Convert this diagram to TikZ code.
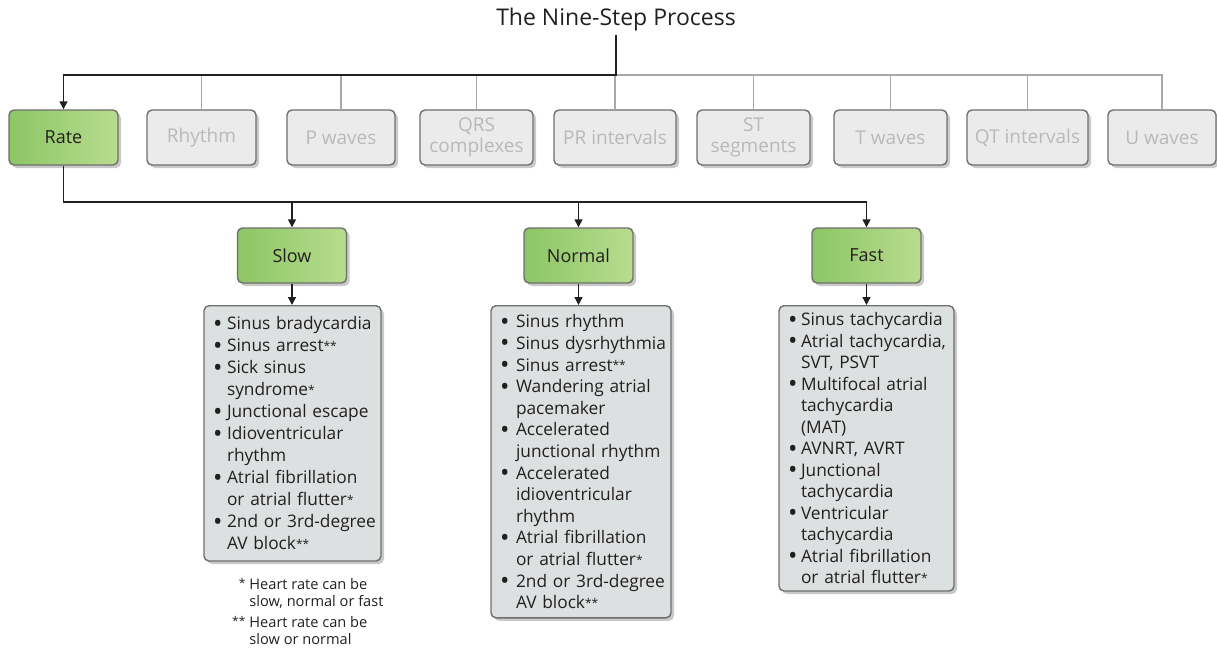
\documentclass[tikz,border=0pt]{standalone}
\usepackage{fontspec}
\usepackage{graphicx}
\setmainfont{Open Sans}
\usetikzlibrary{arrows.meta,shadows}
\definecolor{txt}{HTML}{231F20}
\definecolor{gtxt}{HTML}{B9B9B9}
\definecolor{gfill}{HTML}{EBEBEB}
\definecolor{bord}{HTML}{6E6E6E}
\definecolor{lfill}{HTML}{DDE0E0}
\definecolor{grnL}{HTML}{8CC665}
\definecolor{grnR}{HTML}{B8DC8E}
\definecolor{gline}{HTML}{A9A9A9}
\definecolor{shad}{HTML}{C9C9C9}
\newcommand{\mybul}{\smash{\raisebox{-2.4pt}{\scalebox{1.45}{\textbullet}}}}
\newcommand{\litem}[2][14pt]{\mbox{\makebox[#1][l]{\mybul}#2}}
\newcommand{\lcont}[2][14pt]{\mbox{\hspace*{#1}#2}}
\newcommand{\stars}[1]{{\fontsize{12}{12}\selectfont\raisebox{1.2pt}{#1}}}
\begin{document}
\begin{tikzpicture}[x=1pt,y=-1pt,
 shd/.style={drop shadow={shadow xshift=3pt,shadow yshift=-3pt,fill=shad,opacity=1}},
 topbox/.style={draw=bord,line width=1.4pt,rounded corners=5pt,fill=gfill,text=gtxt,minimum height=55pt,inner sep=2pt,align=center,font=\fontsize{19}{21}\selectfont,shd},
 grnbox/.style={draw=bord,line width=1.4pt,rounded corners=5pt,left color=grnL,right color=grnR,text=txt,minimum height=55pt,minimum width=109pt,font=\fontsize{18}{21}\selectfont,shd},
 listbox/.style={draw=bord,line width=1.4pt,rounded corners=5pt,fill=lfill,text=txt,anchor=north,align=left,inner xsep=9pt,font=\fontsize{17.3}{21.6}\selectfont,shd},
 bline/.style={draw=txt,line width=1.5pt},
 gl/.style={draw=gline,line width=1.3pt},
 arr/.style={bline,-{Triangle[length=8pt,width=8pt]}}
]
\useasboundingbox (0,0) rectangle (1217,653);
\node[font=\fontsize{23}{26}\selectfont,text=txt] (title) at (616,19.5) {The Nine-Step Process};
\node[grnbox] (rate) at (63.5,137.5) {Rate};
\node[topbox,minimum width=109pt] (rhy) at (201.5,137.5) {Rhythm};
\node[topbox,minimum width=108pt] (pw) at (341,137.5) {P waves};
\node[topbox,minimum width=113pt] (qrs) at (476.5,137.5) {QRS\\complexes};
\node[topbox,minimum width=122pt] (pr) at (615,137.5) {PR intervals};
\node[topbox,minimum width=113pt] (st) at (753.5,137.5) {ST\\segments};
\node[topbox,minimum width=113pt] (tw) at (890.5,137.5) {T waves};
\node[topbox,minimum width=121pt] (qt) at (1027.5,137.5) {QT intervals};
\node[topbox,minimum width=108pt] (uw) at (1162,137.5) {U waves};

\node[grnbox] (slow) at (292,255.5) {Slow};
\node[grnbox] (norm) at (578.5,255.5) {Normal};
\node[grnbox] (fast) at (866.5,255.5) {Fast};

\node[listbox,text width=159pt,inner ysep=11pt,font=\fontsize{17.3}{22}\selectfont] (slist) at (292.5,305) {%
\litem{Sinus bradycardia}\\
\litem{Sinus arrest\stars{**}}\\
\litem{Sick sinus}\\
\lcont{syndrome\stars{*}}\\
\litem{Junctional escape}\\
\litem{Idioventricular}\\
\lcont{rhythm}\\
\litem{Atrial fibrillation}\\
\lcont{or atrial flutter\stars{*}}\\
\litem{2nd or 3rd-degree}\\
\lcont{AV block\stars{**}}};

\node[listbox,text width=162pt,inner ysep=9pt] (nlist) at (581,305) {%
\litem[16pt]{Sinus rhythm}\\
\litem[16pt]{Sinus dysrhythmia}\\
\litem[16pt]{Sinus arrest\stars{**}}\\
\litem[16pt]{Wandering atrial}\\
\lcont[16pt]{pacemaker}\\
\litem[16pt]{Accelerated}\\
\lcont[16pt]{junctional rhythm}\\
\litem[16pt]{Accelerated}\\
\lcont[16pt]{idioventricular}\\
\lcont[16pt]{rhythm}\\
\litem[16pt]{Atrial fibrillation}\\
\lcont[16pt]{or atrial flutter\stars{*}}\\
\litem[16pt]{2nd or 3rd-degree}\\
\lcont[16pt]{AV block\stars{**}}};

\node[listbox,text width=157pt,inner ysep=7pt,font=\fontsize{17.3}{21.5}\selectfont] (flist) at (866.5,305) {%
\litem[13pt]{Sinus tachycardia}\\
\litem[13pt]{Atrial tachycardia,}\\
\lcont[13pt]{SVT, PSVT}\\
\litem[13pt]{Multifocal atrial}\\
\lcont[13pt]{tachycardia}\\
\lcont[13pt]{(MAT)}\\
\litem[13pt]{AVNRT, AVRT}\\
\litem[13pt]{Junctional}\\
\lcont[13pt]{tachycardia}\\
\litem[13pt]{Ventricular}\\
\lcont[13pt]{tachycardia}\\
\litem[13pt]{Atrial fibrillation}\\
\lcont[13pt]{or atrial flutter\stars{*}}};

\node[anchor=north west,font=\fontsize{14.6}{17}\selectfont,text=txt,inner sep=0pt] (fn) at (232,577) {%
\begin{tabular}{@{}r@{\hspace{4pt}}l@{}}\stars{*}&Heart rate can be\\&slow, normal or fast\\[4pt]\stars{**}&Heart rate can be\\&slow or normal\end{tabular}};

\coordinate (hub) at (616,75);
\coordinate (bus) at (0,202);
\draw[gl] (hub) -| (uw.north);
\foreach \n in {rhy,pw,qrs,pr,st,tw,qt} \draw[gl] (\n.north) -- (\n.north |- hub);
\draw[arr] (title.south) -- (hub) -| (rate.north);
\draw[bline] (rate.south) |- (fast.north |- bus);
\draw[arr] (slow.north |- bus) -- (slow.north);
\draw[arr] (norm.north |- bus) -- (norm.north);
\draw[arr] (fast.north |- bus) -- (fast.north);
\draw[arr] (slow.south) -- (slow.south |- slist.north);
\draw[arr] (norm.south) -- (norm.south |- nlist.north);
\draw[arr] (fast.south) -- (fast.south |- flist.north);
\end{tikzpicture}
\end{document}
